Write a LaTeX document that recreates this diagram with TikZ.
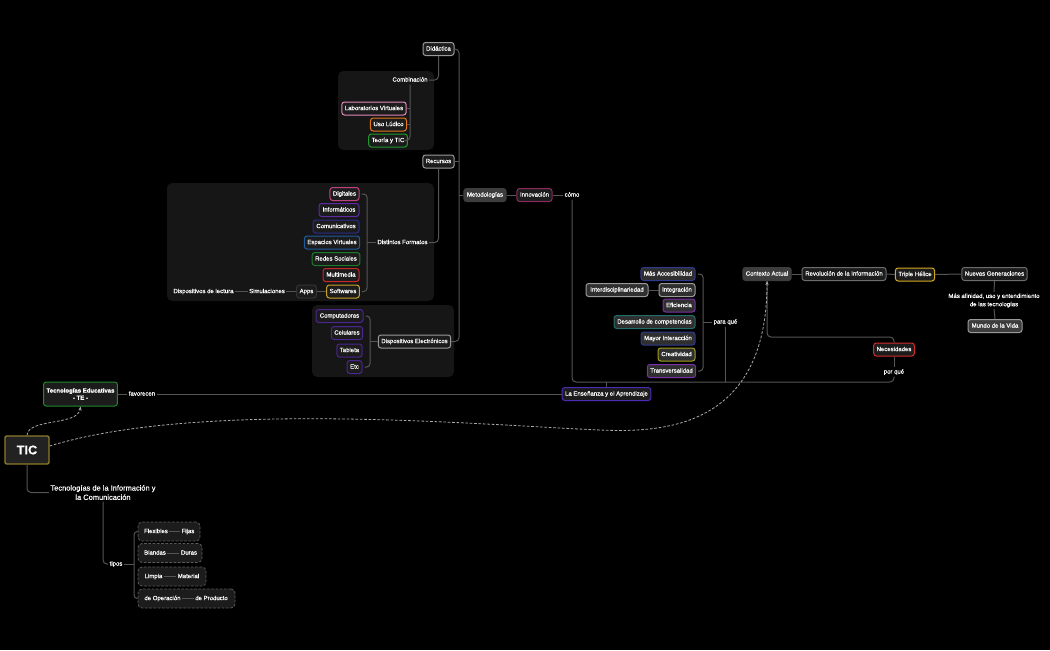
\documentclass[tikz,border=0pt]{standalone}
\usepackage{fontspec}
\setmainfont{Liberation Sans}[FakeBold=0.35]
\usetikzlibrary{arrows.meta,calc}
\definecolor{linec}{HTML}{555555}
\definecolor{ndfill}{HTML}{1C1C1C}
\definecolor{grpfill}{HTML}{161616}
\definecolor{darkfill}{HTML}{3D3D3D}
\definecolor{listfill}{HTML}{2F2F2F}
\definecolor{cgray}{HTML}{9A9A9A}
\definecolor{cpinkl}{HTML}{E08AB8}
\definecolor{cmag}{HTML}{C2417F}
\definecolor{cinnov}{HTML}{8C2A5E}
\definecolor{corange}{HTML}{E0761C}
\definecolor{cgreen}{HTML}{1E9A30}
\definecolor{cgreend}{HTML}{1D7A2B}
\definecolor{cte}{HTML}{1F8A2C}
\definecolor{cpurple}{HTML}{5E2AA5}
\definecolor{cpurple2}{HTML}{4B2590}
\definecolor{cpurple3}{HTML}{7B2FA8}
\definecolor{cindigo}{HTML}{2C2C8F}
\definecolor{cindigo2}{HTML}{2E3A8F}
\definecolor{cblue}{HTML}{1F5C9E}
\definecolor{cred}{HTML}{C62828}
\definecolor{cgold}{HTML}{C9A227}
\definecolor{cteal}{HTML}{1F6E69}
\definecolor{colive}{HTML}{A39E1F}
\definecolor{censen}{HTML}{4B2AB5}
\definecolor{ctriple}{HTML}{D6A91C}
\definecolor{cneces}{HTML}{D42A2A}
\definecolor{cticb}{HTML}{8C7A2A}
\definecolor{cticf}{HTML}{222222}
\definecolor{capps}{HTML}{333333}
\definecolor{cdash}{HTML}{5A5A5A}
\definecolor{cdashline}{HTML}{AAAAAA}
\newcommand{\fsz}{\fontsize{4.5}{5.4}\selectfont}
\begin{document}
\begin{tikzpicture}[x=0.75pt,y=-0.75pt,
  conn/.style={draw=linec, line width=0.75pt},
  nd/.style={draw=#1, fill=ndfill, rounded corners=2pt, line width=0.75pt, text=white, font=\fsz, minimum height=9.75pt, inner xsep=2.25pt, inner ysep=0.5pt, text height=3.4pt, text depth=1pt},
  mw/.style={minimum width=#1*0.75pt},
  lbl/.style={text=white, font=\fsz, inner sep=1pt, text height=3.4pt, text depth=1pt},
  mlbl/.style={text=white, inner sep=1pt, align=center},
  grp/.style={fill=grpfill, rounded corners=4pt},
  tbox/.style={draw=cdash, dashed, dash pattern=on 2pt off 1.2pt, fill=ndfill, rounded corners=3pt, line width=0.6pt, minimum height=14.25pt},
  rel/.style={draw=cdashline, line width=0.6pt, dash pattern=on 2pt off 1.3pt, -{Stealth[length=3pt,width=2.4pt]}}
]
\fill[black] (0,0) rectangle (1050,650);
\useasboundingbox (0,0) rectangle (1050,650);

% group boxes
\fill[grp] (338,71) rectangle (434,150);
\fill[grp] (167,183) rectangle (434,301);
\fill[grp] (312,305) rectangle (454,377);

% top branch
\node[nd=cgray, mw=31] (didactica) at (438.5,49) {Didáctica};
\node[lbl] (combinacion) at (410,80) {Combinación};
\node[nd=cpinkl, mw=64] (labvirt) at (374,108.5) {Laboratorios Virtuales};
\node[nd=corange, mw=35] (usoludico) at (388.5,124.5) {Uso Lúdico};
\node[nd=cgreen, mw=36] (teoria) at (388,140.5) {Teoría y TIC};
\node[nd=cgray, mw=31] (recursos) at (438.5,161.5) {Recursos};

\node[nd=cmag, mw=29] (digitales) at (344.5,194) {Digitales};
\node[nd=cpurple, mw=40] (informaticos) at (339,210) {Informáticos};
\node[nd=cindigo, mw=46] (comunicativos) at (336,226.5) {Comunicativos};
\node[nd=cblue, mw=54] (espacios) at (332,242.5) {Espacios Virtuales};
\node[nd=cgreend, mw=46] (redes) at (336,259) {Redes Sociales};
\node[nd=cred, mw=36] (multimedia) at (341,275) {Multimedia};
\node[nd=cgold, mw=32] (softwares) at (343,291.5) {Softwares};
\node[nd=capps, mw=19] (apps) at (306.5,291.5) {Apps};
\node[lbl] (simulaciones) at (267,291.5) {Simulaciones};
\node[lbl] (displectura) at (203.5,291.5) {Dispositivos de lectura};
\node[lbl] (distintos) at (402.5,242.5) {Distintos Formatos};

\node[nd=cpurple2, mw=47] (computadoras) at (339.5,316) {Computadoras};
\node[nd=cpurple2, mw=30] (celulares) at (347,333) {Celulares};
\node[nd=cpurple2, mw=25] (tableta) at (349.5,350.5) {Tableta};
\node[nd=cpurple2, mw=15] (etc) at (354.5,367) {Etc};
\node[nd=cgray, mw=71] (dispelec) at (414.5,341.5) {Dispositivos Electrónicos};

\node[nd=darkfill, fill=darkfill, mw=42] (metodologias) at (485,195) {Metodologías};
\node[nd=cinnov, mw=35] (innovacion) at (534.5,195) {Innovación};
\node[lbl] (como) at (572,195) {cómo};

% para que list
\node[nd=cindigo2, fill=listfill, mw=54] (masacc) at (668,274) {Más Accesibilidad};
\node[nd=cgray, fill=listfill, mw=36] (integracion) at (677,290) {Integración};
\node[nd=cgray, fill=listfill, mw=62] (interdisc) at (617,290) {Interdisciplinariedad};
\node[nd=cpurple3, fill=listfill, mw=32] (eficiencia) at (679,305.5) {Eficiencia};
\node[nd=cteal, fill=listfill, mw=81] (desarrollo) at (654.5,322) {Desarrollo de competencias};
\node[nd=cindigo2, fill=listfill, mw=54] (mayor) at (668,338.5) {Mayor Interacción};
\node[nd=colive, fill=listfill, mw=37] (creatividad) at (676.5,354.5) {Creatividad};
\node[nd=cpurple3, fill=listfill, mw=47] (transversalidad) at (671.5,371) {Transversalidad};
\node[lbl] (paraque) at (725.5,322) {para qué};
\node[nd=censen, mw=87] (ensenanza) at (606.5,394) {La Enseñanza y el Aprendizaje};

% right side
\node[nd=darkfill, fill=darkfill, mw=48] (contexto) at (767,274) {Contexto Actual};
\node[nd=cgray!70!black, mw=84] (revolucion) at (844,274) {Revolución de la Información};
\node[nd=ctriple, mw=38] (triple) at (915,274.5) {Triple Hélice};
\node[nd=cgray!70!black, mw=63] (nuevas) at (994.5,274) {Nuevas Generaciones};
\node[mlbl, font=\fontsize{4.5}{6.2}\selectfont] (masafin) at (994,300.5) {Más afinidad, uso y entendimiento\\de las tecnologías};
\node[nd=cgray, fill=darkfill, mw=54] (mundo) at (995,326) {Mundo de la Vida};
\node[nd=cneces, mw=40] (necesidades) at (894,349.5) {Necesidades};
\node[lbl] (porque) at (894,372) {por qué};

% left bottom
\node[draw=cte, fill=ndfill, rounded corners=2pt, line width=0.75pt, text=white, mw=73, minimum height=18pt, inner xsep=2.25pt, inner ysep=0.5pt, align=center, font=\bfseries\fsz] (te) at (80.5,394) {Tecnologías Educativas\\- TE -};
\node[lbl] (favorecen) at (142,394) {favorecen};
\node[draw=cticb, fill=cticf, line width=1pt, rounded corners=1pt, minimum width=44*0.75pt, minimum height=28*0.75pt, font=\bfseries\fontsize{9.5}{11}\selectfont, text=white] (tic) at (27,450) {TIC};
\node[mlbl, font=\fontsize{5.6}{7}\selectfont] (tecno) at (103,492.5) {Tecnologías de la Información y\\la Comunicación};
\node[lbl] (tipos) at (116,564) {tipos};

\node[tbox, mw=62] (b1) at (169,531.5) {};
\node[tbox, mw=64] (b2) at (170,553) {};
\node[tbox, mw=68] (b3) at (172,576.5) {};
\node[tbox, mw=97] (b4) at (186.5,598.5) {};
\node[lbl] (flex) at (156,531.5) {Flexibles};
\node[lbl] (fijas) at (188,531.5) {Fijas};
\node[lbl] (blandas) at (155,553) {Blandas};
\node[lbl] (duras) at (189,553) {Duras};
\node[lbl] (limpia) at (153.5,576.5) {Limpia};
\node[lbl] (material) at (188.5,576.5) {Material};
\node[lbl] (operacion) at (162.5,598.5) {de Operación};
\node[lbl] (producto) at (211.5,598.5) {de Producto};

% ---------- connectors ----------
\coordinate (trk) at (459,341.5);
\draw[conn, rounded corners=3pt] (didactica.east) -| (trk) -- (dispelec.east);
\draw[conn] (recursos.east) -- (recursos.east -| trk);
\draw[conn] (metodologias.west) -- (metodologias.west -| trk);

\draw[conn, rounded corners=3pt] (didactica.south) |- (combinacion.east);
\draw[conn, rounded corners=3pt] (combinacion.south) |- (teoria.east);
\draw[conn] (labvirt.east) -- (labvirt.east -| combinacion.south);
\draw[conn] (usoludico.east) -- (usoludico.east -| combinacion.south);

\draw[conn, rounded corners=3pt] (recursos.south) |- (distintos.east);
\coordinate (db) at (367,291.5);
\draw[conn, rounded corners=2.5pt] ([xshift=1.5pt]digitales.east) -| (db) -- ([xshift=1.5pt]softwares.east);
\draw[conn] (distintos.west) -- (distintos.west -| db);
\draw[conn] (softwares.west) -- (apps.east);
\draw[conn] (apps.west) -- (simulaciones.east);
\draw[conn] (simulaciones.west) -- (displectura.east);

\coordinate (eb) at (370,367);
\draw[conn, rounded corners=2.5pt] ([xshift=1.5pt]computadoras.east) -| (eb) -- ([xshift=1.5pt]etc.east);
\draw[conn] (dispelec.west) -- (dispelec.west -| eb);

\draw[conn] (metodologias.east) -- (innovacion.west);
\draw[conn] (innovacion.east) -- (como.west);

\coordinate (base) at (894,382);
\draw[conn, rounded corners=3pt] (como.south) |- (base) -- (porque.south);
\draw[conn] (paraque.south) -- (paraque.south |- base);
\draw[conn] (ensenanza.north) -- (ensenanza.north |- base);

\coordinate (pb) at (703,371);
\draw[conn, rounded corners=2.5pt] ([xshift=1.5pt]masacc.east) -| (pb) -- ([xshift=1.5pt]transversalidad.east);
\draw[conn] (paraque.west) -- (paraque.west -| pb);
\draw[conn] (integracion.west) -- (interdisc.east);

\draw[conn] (te.east) -- (favorecen.west);
\draw[conn] (favorecen.east) -- (ensenanza.west);

\draw[conn] (contexto.east) -- (revolucion.west);
\draw[conn] (revolucion.east) -- (triple.west);
\draw[conn] (triple.east) -- (nuevas.west);
\draw[conn] (nuevas.south) -- (masafin.north);
\draw[conn] (masafin.south) -- (mundo.north);

\coordinate (nk) at (894,337);
\draw[conn, rounded corners=3pt] (contexto.south) |- (nk) -- (necesidades.north);
\draw[conn] (necesidades.south) -- (porque.north);

\draw[conn, rounded corners=3pt] (tic.south) |- (tecno.west);
\draw[conn, rounded corners=3pt] (tecno.south) |- (tipos.west);

\coordinate (tb) at (134,598.5);
\draw[conn, rounded corners=2.5pt] (b1.west) -| (tb) -- (b4.west);
\draw[conn] (tipos.east) -- (tipos.east -| tb);

\draw[conn] (flex.east) -- (fijas.west);
\draw[conn] (blandas.east) -- (duras.west);
\draw[conn] (limpia.east) -- (material.west);
\draw[conn] (operacion.east) -- (producto.west);

% relationships (dashed)
\coordinate (dip) at (600,430);
\draw[rel] (tic.north) .. controls (28,418) and (78,426) .. (te.south);
\draw[rel] ($(tic.east)+(0,-4)$) .. controls (200,400) and (480,425) .. (dip) .. controls (660,432.5) and (767,430) .. (contexto.south);
\end{tikzpicture}
\end{document}
